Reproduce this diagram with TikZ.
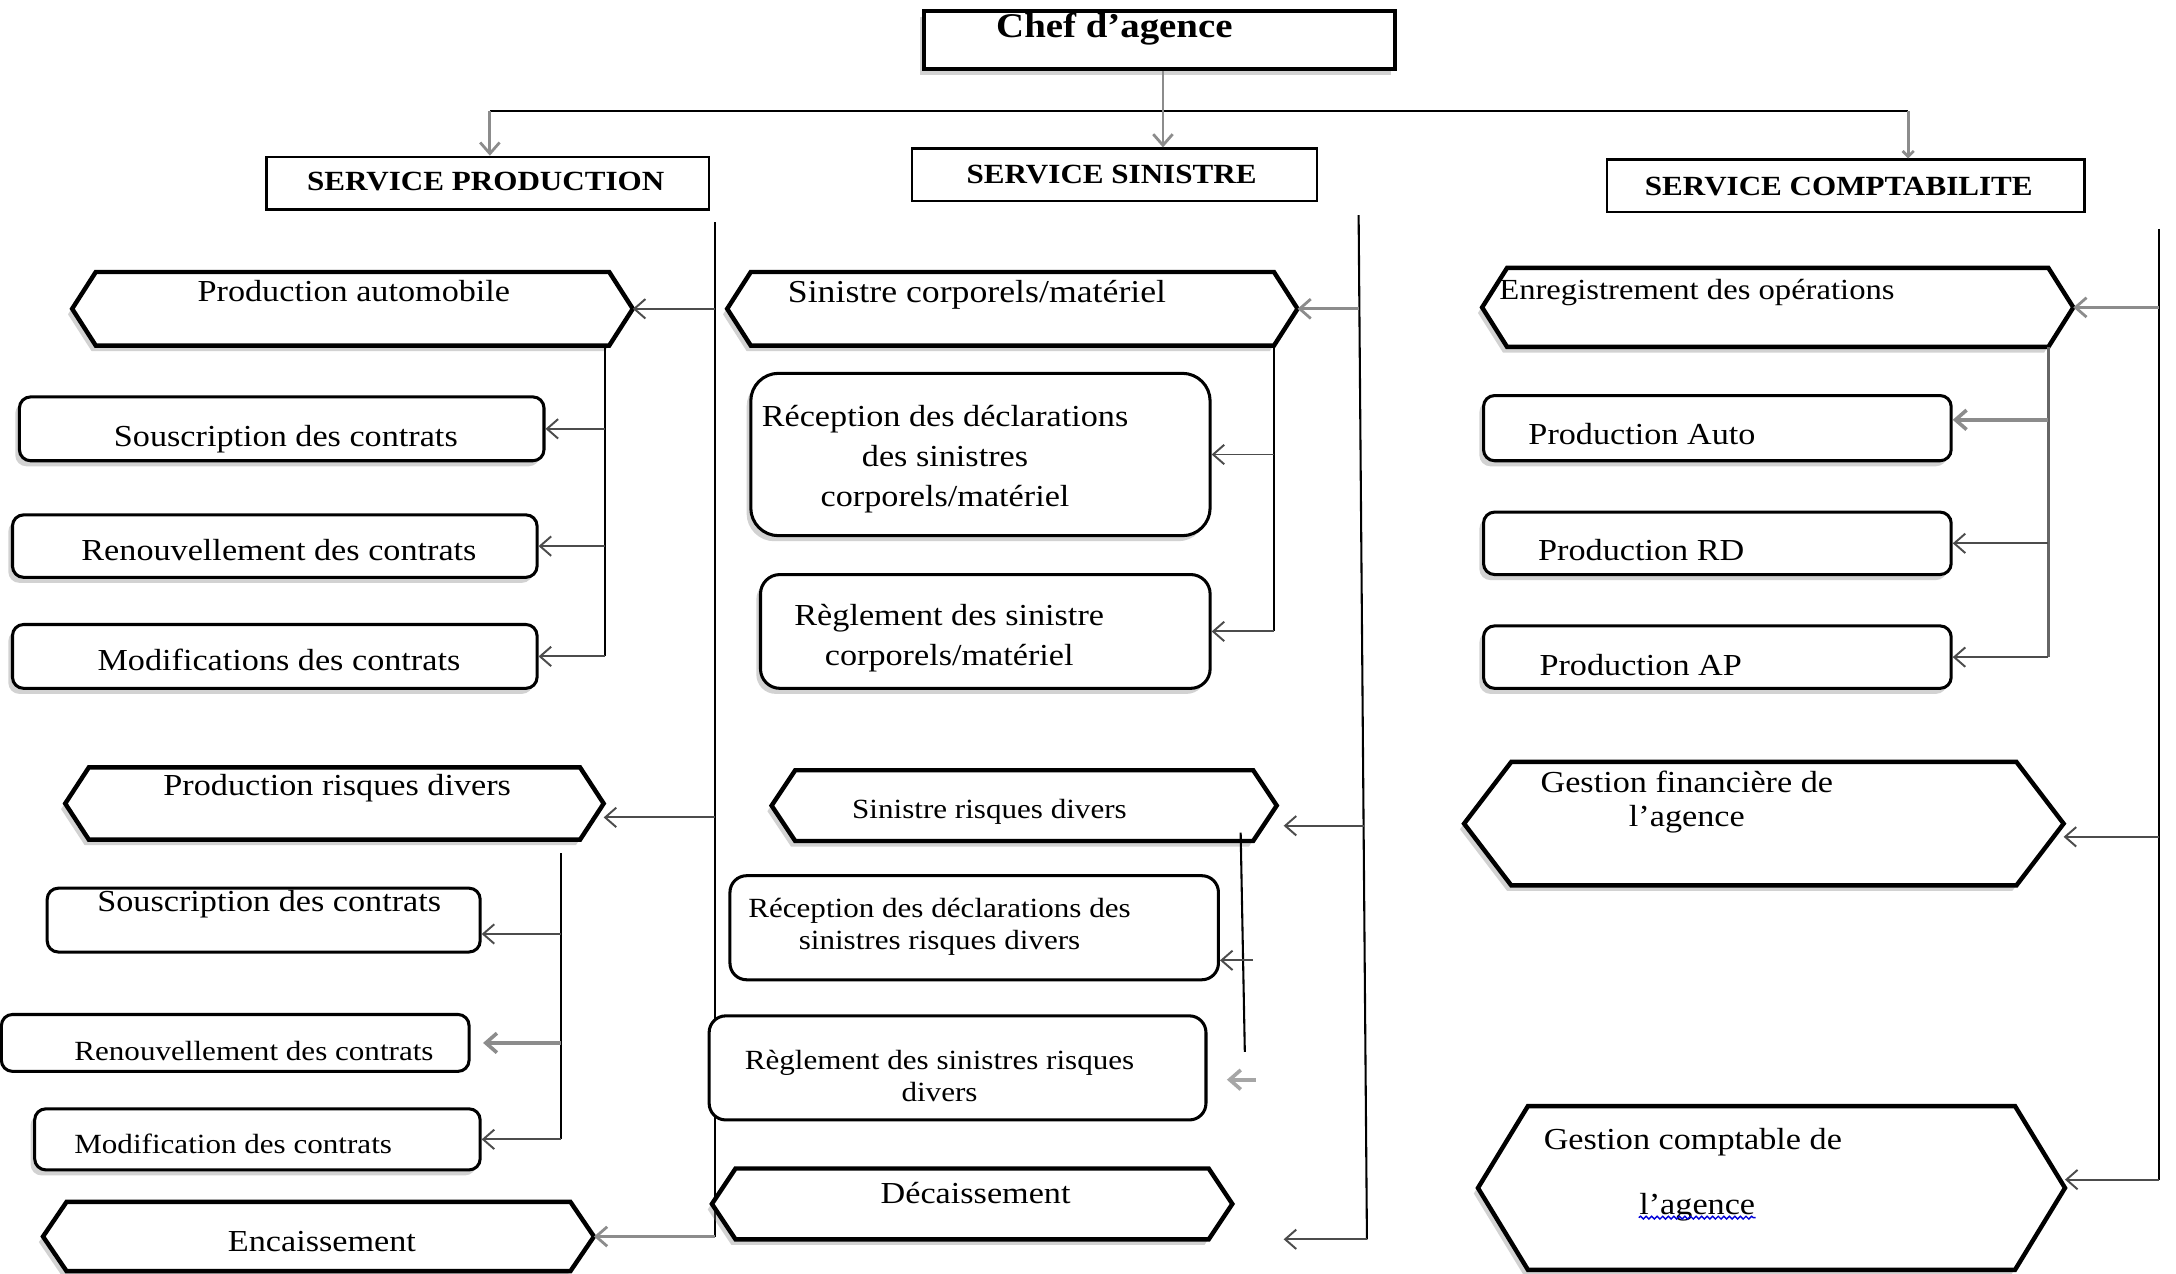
\documentclass[tikz,border=0pt]{standalone}
\usepackage{fontspec}
\setmainfont{Liberation Serif}[FakeStretch=1.12]
\usetikzlibrary{arrows.meta,shadows,decorations.pathmorphing,calc}
\newcommand\hexa[2]{\path[hexline] (#1.west) -- ([xshift=#2]#1.north west) -- ([xshift=-#2]#1.north east) -- (#1.east) -- ([xshift=-#2]#1.south east) -- ([xshift=#2]#1.south west) -- cycle;}
\begin{document}
\begin{tikzpicture}[x=0.5pt,y=-0.5pt,
 box/.style={draw, line width=1.1pt, rounded corners=4pt, fill=white, inner sep=0pt},
 shbox/.style={box, drop shadow={shadow xshift=-1.5pt,shadow yshift=-2pt,opacity=0.35}},
 svc/.style={draw, line width=0.8pt, fill=white, inner sep=0pt},
 hexn/.style={inner sep=0pt, outer sep=0pt},
 hexline/.style={draw, line width=1.6pt, fill=white, line join=miter, drop shadow={shadow xshift=-1.5pt, shadow yshift=-2pt, opacity=0.35}},
 txt/.style={inner sep=0pt, font=\fontsize{11}{14.5}\selectfont},
 stxt/.style={inner sep=0pt, font=\fontsize{10}{11.5}\selectfont},
 btxt/.style={inner sep=0pt, font=\bfseries\fontsize{10}{12}\selectfont},
 spine/.style={line width=0.75pt, black},
 conn/.style={line width=0.7pt, black!70, -{Straight Barb[length=4pt,width=7pt]}},
 gconn/.style={line width=1.3pt, black!45, -{Straight Barb[length=4pt,width=7pt]}},
]
\useasboundingbox[fill=white] (0,0) rectangle (1568,918);

% ---- top
\node[svc, line width=1.5pt, drop shadow={shadow xshift=-1.5pt,shadow yshift=-2pt,opacity=0.35}, minimum width=169.5pt, minimum height=21pt] (chef) at (835.5,29) {};
\node[inner sep=0pt, font=\bfseries\fontsize{12.5}{14}\selectfont, anchor=base] (tchef) at (803,27) {Chef d’agence};

\node[svc, minimum width=159.5pt, minimum height=19pt] (sp) at (351.5,132) {};
\node[btxt, anchor=base] (tsp) at (350,137) {SERVICE PRODUCTION};
\node[svc, minimum width=146pt, minimum height=19pt] (ss) at (803,126) {};
\node[btxt, anchor=base] (tss) at (801,132) {SERVICE SINISTRE};
\node[svc, minimum width=172pt, minimum height=19pt] (scb) at (1330,134) {};
\node[btxt, anchor=base] (tscb) at (1325,141) {SERVICE COMPTABILITE};

\coordinate (busL) at (353,80);
\coordinate (busM) at (838,80);
\coordinate (busR) at (1375,80);
\draw[spine, line width=0.7pt] (busL) -- (busR);
\draw[gconn, line width=1pt] (chef.south -| busM) -- (ss.north -| busM);
\draw[gconn, line width=1pt] (busL) -- (sp.north -| busL);
\draw[gconn, line width=1pt, -{Straight Barb[length=2pt,width=4pt]}] (busR) -- (scb.north -| busR);

% ---- production column
\node[hexn, minimum width=202pt, minimum height=26.5pt] (pa) at (254,222.5) {};
\hexa{pa}{8.5pt}
\node[txt, anchor=base] (tpa) at (255,217) {Production automobile};

\node[shbox, minimum width=189pt, minimum height=23pt] (pa1) at (203,309) {};
\node[txt, anchor=base] (tpa1) at (206,322) {Souscription des contrats};
\node[shbox, minimum width=189pt, minimum height=22.5pt] (pa2) at (198,393.5) {};
\node[txt, anchor=base] (tpa2) at (201,404) {Renouvellement des contrats};
\node[shbox, minimum width=189pt, minimum height=23pt] (pa3) at (198,473) {};
\node[txt, anchor=base] (tpa3) at (201,483) {Modifications des contrats};

\node[hexn, minimum width=194pt, minimum height=26pt] (prd) at (241,579) {};
\hexa{prd}{8.5pt}
\node[txt, anchor=base] (tprd) at (243,573) {Production risques divers};

\node[box, minimum width=156pt, minimum height=23pt] (prd1) at (190,663) {};
\node[txt, anchor=base] (tprd1) at (194,657) {Souscription des contrats};
\node[box, minimum width=168.5pt, minimum height=20.5pt] (prd2) at (169.5,751.5) {};
\node[stxt, anchor=base] (tprd2) at (183,764) {Renouvellement des contrats};
\node[shbox, minimum width=160.5pt, minimum height=22pt] (prd3) at (185.5,821) {};
\node[stxt, anchor=base] (tprd3) at (168,831) {Modification des contrats};

\node[hexn, minimum width=198.5pt, minimum height=25pt] (enc) at (229.5,891) {};
\hexa{enc}{8.5pt}
\node[txt, anchor=base] (tenc) at (232,902) {Encaissement};

% production connectors
\coordinate (psp) at (515,160);
\draw[spine] (psp) -- (psp |- enc.east);
\draw[conn] (pa.east -| psp) -- (pa.east);
\draw[conn] ([yshift=-5pt]prd.east -| psp) -- ([yshift=-5pt]prd.east);
\draw[gconn, line width=1pt] (enc.east -| psp) -- (enc.east);

\coordinate (pas) at (436,249);
\draw[spine] (pas) -- (pas |- pa3.east);
\draw[conn] (pas |- pa1.east) -- (pa1.east);
\draw[conn] (pas |- pa2.east) -- (pa2.east);
\draw[conn] (pas |- pa3.east) -- (pa3.east);

\coordinate (prs) at (404,615);
\draw[spine] (prs) -- (prs |- prd3.east);
\draw[conn] ([yshift=-5pt]prd1.east -| prs) -- ([yshift=-5pt]prd1.east);
\draw[gconn] (prd2.east -| prs) -- ([xshift=4.5pt]prd2.east);
\draw[conn] (prd3.east -| prs) -- (prd3.east);

% ---- sinistre column
\node[hexn, minimum width=205.5pt, minimum height=26.5pt] (scm) at (729.5,222.5) {};
\hexa{scm}{8.5pt}
\node[inner sep=0pt, font=\fontsize{11.5}{14}\selectfont, anchor=base] (tscm) at (704,218) {Sinistre corporels/matériel};

\node[shbox, rounded corners=10pt, minimum width=165.5pt, minimum height=58.5pt] (scm1) at (706.5,327.5) {};
\node[txt, align=center] (tscm1) at (681,331) {Réception des déclarations\\des sinistres\\corporels/matériel};
\node[shbox, rounded corners=7pt, minimum width=162pt, minimum height=41pt] (scm2) at (710,455) {};
\node[txt, align=center] (tscm2) at (684,460) {Règlement des sinistre\\corporels/matériel};

\node[hexn, minimum width=182pt, minimum height=25.5pt] (srd) at (738,580.5) {};
\hexa{srd}{8.5pt}
\node[stxt, anchor=base] (tsrd) at (713,589.5) {Sinistre risques divers};

\node[box, rounded corners=6pt, minimum width=176pt, minimum height=37.5pt] (srd1) at (702,668.5) {};
\node[stxt, align=center] (tsrd1) at (677,668) {Réception des déclarations des\\sinistres risques divers};
\node[box, rounded corners=6pt, minimum width=179pt, minimum height=37.5pt] (srd2) at (690,769.5) {};
\node[stxt, align=center] (tsrd2) at (677,775) {Règlement des sinistres risques\\divers};

\node[hexn, minimum width=187.5pt, minimum height=25.5pt] (dec) at (700.5,867.5) {};
\hexa{dec}{8.5pt}
\node[txt, anchor=base] (tdec) at (703,867) {Décaissement};

% sinistre connectors
\coordinate (ssp1) at (979,155);
\coordinate (ssp2) at (985,893);
\draw[spine] (ssp1) -- (ssp2);
\coordinate (ssa) at (979.5,222.5);
\draw[gconn, line width=1pt] (ssa) -- (scm.east);
\coordinate (ssb) at (983,595);
\draw[conn] (ssb) -- ([xshift=2.5pt,yshift=-7.25pt]srd.east);
\coordinate (decin) at (925,893);
\draw[conn] (ssp2) -- (decin);

\coordinate (scs) at (918,249);
\draw[spine] (scs) -- (scs |- scm2.east);
\draw[conn] (scs |- scm1.east) -- (scm1.east);
\draw[conn] (scs |- scm2.east) -- (scm2.east);

\coordinate (srs1) at (894,600);
\coordinate (srs2) at (897,758);
\draw[spine] (srs1) -- (srs2);
\coordinate (srda) at (903,692);
\draw[conn] (srda) -- ([yshift=-11.75pt]srd1.east);
\coordinate (srdb) at (905,778);
\draw[gconn, black!35] (srdb) -- ([xshift=7pt,yshift=-4.25pt]srd2.east);

% ---- comptabilite column
\node[hexn, minimum width=213pt, minimum height=28.5pt] (eo) at (1281,221.5) {};
\hexa{eo}{9pt}
\node[inner sep=0pt, font=\fontsize{10.5}{13}\selectfont, anchor=base west] (teo) at (1080,216) {Enregistrement des opérations};

\node[shbox, minimum width=168.5pt, minimum height=23.5pt] (eo1) at (1237.5,308.5) {};
\node[txt, anchor=base west] (teo1) at (1101,320) {Production Auto};
\node[shbox, minimum width=168.5pt, minimum height=22.5pt] (eo2) at (1237.5,391.5) {};
\node[txt, anchor=base west] (teo2) at (1108,404) {Production RD};
\node[shbox, minimum width=168.5pt, minimum height=22.5pt] (eo3) at (1237.5,473.5) {};
\node[txt, anchor=base west] (teo3) at (1109,487) {Production AP};

\node[hexn, minimum width=216pt, minimum height=44.5pt] (gf) at (1271,593.5) {};
\hexa{gf}{17pt}
\node[inner sep=0pt, font=\fontsize{11}{12.5}\selectfont, align=center] (tgf) at (1215.5,578) {Gestion financière de\\l’agence};

\node[hexn, minimum width=211.5pt, minimum height=59pt] (gc) at (1276.5,856) {};
\hexa{gc}{18pt}
\node[txt, anchor=base west] (tgc1) at (1112,828) {Gestion comptable de};
\node[txt, anchor=base] (tgc2) at (1223,875) {l’agence};
\draw[blue!85!black, line width=0.5pt, decorate, decoration={snake, amplitude=0.5pt, segment length=2pt}] ([yshift=-1.2pt]tgc2.base west) -- ([yshift=-1.2pt]tgc2.base east);

% comptabilite connectors
\coordinate (csp1) at (1556,165);
\coordinate (csp2) at (1556,850);
\draw[spine] (csp1) -- (csp2);
\draw[gconn, line width=1pt] (eo.east -| csp1) -- (eo.east);
\draw[conn] ([yshift=-4.75pt]gf.east -| csp1) -- ([yshift=-4.75pt]gf.east);
\draw[conn] (csp2) -- ([yshift=3pt]gc.east);

\coordinate (eos) at (1476,250);
\draw[spine, black!60, line width=1pt] (eos) -- (eos |- eo3.east);
\draw[gconn] ([yshift=3pt]eo1.east -| eos) -- ([yshift=3pt]eo1.east);
\draw[conn] (eo2.east -| eos) -- (eo2.east);
\draw[conn] (eo3.east -| eos) -- (eo3.east);
\end{tikzpicture}
\end{document}
